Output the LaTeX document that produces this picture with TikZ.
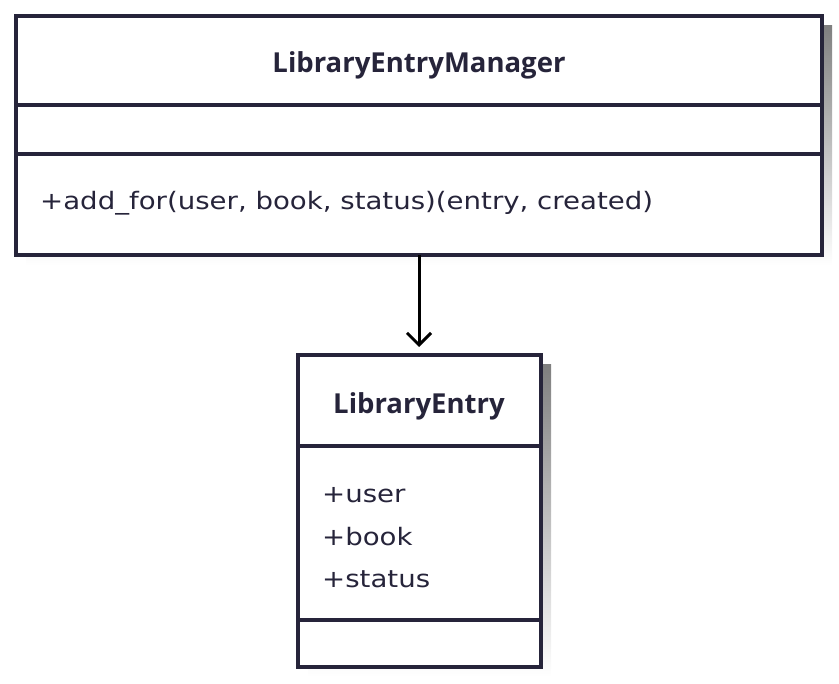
\documentclass[tikz,border=0pt]{standalone}
\usepackage{fontspec}
\setmainfont{Open Sans}
\newfontfamily\memberfont[FakeStretch=1.15]{DejaVu Sans}
\usetikzlibrary{arrows.meta,calc}
\definecolor{ink}{RGB}{38,36,58}
\definecolor{shade}{RGB}{238,238,238}
\tikzset{
  x=1pt,y=-1pt,
  classbox/.style={draw=ink,line width=3.5pt,fill=white,inner sep=0pt,outer sep=0pt},
  divider/.style={draw=ink,line width=3.5pt},
  title/.style={text=ink,font=\fontsize{27.5}{32}\selectfont\bfseries,inner sep=0pt},
  member/.style={text=ink,font=\memberfont\fontsize{24}{30}\selectfont,inner sep=0pt,anchor=west},
  assoc/.style={draw=black,line width=3pt,-{Straight Barb[length=12pt,width=24pt,line width=3pt]}}
}
\begin{document}
\begin{tikzpicture}
\useasboundingbox (0,0) rectangle (839,684);
% shadows
\fill[shade] (26,26) rectangle (832,265);
\fill[shade] (308,365) rectangle (551,677);
% top class
\node[classbox,minimum width=806pt,minimum height=239pt] (mgr) at (419,135.5) {};
\draw[divider] (16,105) -- (822,105);
\draw[divider] (16,154) -- (822,154);
\node[title] (mgrname) at (419,65) {LibraryEntryManager};
\node[member] (mgrop) at (40,203) {+add\_for(user, book, status)(entry, created)};
% bottom class
\node[classbox,minimum width=243pt,minimum height=312pt] (entry) at (419.5,511) {};
\draw[divider] (298,446) -- (541,446);
\draw[divider] (298,620) -- (541,620);
\node[title] (entryname) at (419,406) {LibraryEntry};
\node[member] (a1) at (322,495) {+user};
\node[member] (a2) at (322,537) {+book};
\node[member] (a3) at (322,579) {+status};
% connector
\draw[assoc,shorten >=8pt] (mgr.south -| 419,0) -- (entry.north -| 419,0);
\end{tikzpicture}
\end{document}
